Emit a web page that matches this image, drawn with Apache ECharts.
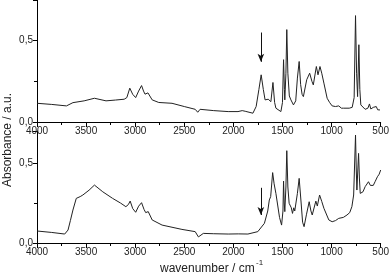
<!DOCTYPE html>
<html><head><meta charset="utf-8">
<script src="https://cdn.jsdelivr.net/npm/echarts@6/dist/echarts.min.js"></script>
<style>html,body{margin:0;padding:0;background:#fff}#c{width:392px;height:280px}</style>
</head><body><div id="c"></div>
<script>
const xTicks = [4000, 3500, 3000, 2500, 2000, 1500, 1000, 500];
const yTickLabels = ['0,0', '0,5'];
const topWn = [4000,3850,3700,3634,3520,3415,3297,3200,3112,3085,3055,3025,2995,2965,2935,2915,2900,2870,2827,2760,2625,2500,2389,2363,2339,2200,2053,1953,1910,1880,1801,1768,1740,1717,1695,1677,1645,1630,1618,1597,1580,1567,1516,1500,1489,1480,1476,1465,1456,1445,1430,1414,1388,1365,1348,1330,1315,1300,1287,1253,1223,1200,1186,1155,1138,1118,1100,1078,1045,1020,994,960,927,900,877,820,790,770,756,745,735,722,712,702,658,630,614,600,591,575,560,545,530,507,500];
const topAbs = [0.115,0.108,0.099,0.119,0.13,0.146,0.13,0.135,0.14,0.15,0.208,0.17,0.15,0.19,0.224,0.19,0.171,0.179,0.136,0.12,0.115,0.095,0.078,0.06,0.078,0.07,0.064,0.064,0.07,0.066,0.054,0.095,0.2,0.29,0.2,0.136,0.14,0.146,0.125,0.243,0.12,0.085,0.064,0.12,0.383,0.2,0.136,0.3,0.568,0.3,0.16,0.136,0.105,0.13,0.27,0.372,0.23,0.17,0.156,0.26,0.30,0.25,0.228,0.341,0.29,0.341,0.3,0.239,0.146,0.12,0.099,0.095,0.099,0.085,0.085,0.085,0.09,0.15,0.654,0.3,0.156,0.475,0.2,0.105,0.078,0.085,0.111,0.08,0.078,0.09,0.078,0.095,0.075,0.074,0.074];
const botWn = [4000,3850,3718,3684,3660,3634,3600,3560,3533,3470,3415,3330,3230,3150,3095,3070,3051,3025,2995,2965,2935,2910,2893,2867,2827,2726,2524,2389,2356,2306,2200,2053,1950,1852,1751,1684,1650,1634,1620,1600,1585,1567,1530,1509,1495,1489,1482,1476,1465,1456,1445,1432,1410,1398,1385,1375,1365,1348,1330,1310,1295,1280,1255,1228,1210,1197,1160,1145,1122,1100,1078,1028,994,960,927,880,843,815,793,775,756,748,742,725,716,708,680,658,624,605,591,575,557,545,533,515,500];
const botAbs = [0.075,0.066,0.056,0.081,0.14,0.206,0.279,0.29,0.30,0.33,0.362,0.32,0.279,0.25,0.227,0.24,0.262,0.215,0.192,0.23,0.252,0.21,0.19,0.196,0.144,0.112,0.085,0.071,0.038,0.06,0.058,0.056,0.057,0.056,0.071,0.123,0.2,0.269,0.29,0.44,0.37,0.31,0.16,0.112,0.2,0.387,0.25,0.196,0.35,0.577,0.35,0.248,0.22,0.185,0.22,0.2,0.21,0.31,0.404,0.25,0.13,0.102,0.18,0.258,0.2,0.175,0.262,0.231,0.30,0.26,0.217,0.144,0.133,0.14,0.154,0.16,0.175,0.19,0.227,0.3,0.675,0.45,0.331,0.56,0.4,0.31,0.32,0.352,0.383,0.36,0.348,0.36,0.383,0.39,0.414,0.43,0.456];
const arrowWn = 1720;
const topArrow = [0.55, 0.37];
const botArrow = [0.345, 0.175];

const font = 'Liberation Sans, Arial, sans-serif';
function xAx(gi){
  return {gridIndex: gi, type:'value', inverse:true, min:500, max:4000, interval:500,
    axisLine:{show:true, lineStyle:{color:'#000', width:1}},
    axisTick:{show:true, length:5, lineStyle:{color:'#000'}},
    minorTick:{show:true, splitNumber:2, length:3, lineStyle:{color:'#000'}},
    splitLine:{show:false},
    axisLabel:{color:'#222', fontSize:10, fontFamily:font, margin:4,
      formatter: v => { const t = xTicks.find(k => Math.abs(k - v) < 1e-6); return t === undefined ? '' : String(t); }}};
}
function yAx(gi, max){
  return {gridIndex: gi, type:'value', min:0, max:max, interval:0.5,
    axisLine:{show:true, lineStyle:{color:'#000', width:1}},
    axisTick:{show:true, length:4, lineStyle:{color:'#000'}},
    minorTick:{show:true, splitNumber:2, length:3, lineStyle:{color:'#000'}},
    splitLine:{show:false},
    axisLabel:{color:'#222', fontSize:10, fontFamily:font, margin:4, showMaxLabel:false,
      formatter: v => { const i = Math.round(v/0.5); return Math.abs(v - i*0.5) < 1e-6 ? (yTickLabels[i] || '') : ''; }}};
}
function mkLine(a){
  return {silent:true, symbol:['none','arrow'], symbolSize:[5,8], label:{show:false},
    lineStyle:{color:'#111', width:1, type:'solid'},
    data:[[{coord:[arrowWn, a[0]]},{coord:[arrowWn, a[1]]}]]};
}
const chart = echarts.init(document.getElementById('c'), null, {renderer:'canvas'});
chart.setOption({
  animation:false,
  backgroundColor:'#fff',
  grid:[{left:37, right:8, top:0, height:122},{left:37, right:8, top:131, height:112}],
  xAxis:[xAx(0), xAx(1)],
  yAxis:[yAx(0,0.75), yAx(1,0.7)],
  series:[
    {type:'line', xAxisIndex:0, yAxisIndex:0, showSymbol:false, symbol:'none',
     data: topWn.map((w,i)=>[w, topAbs[i]]), lineStyle:{color:'#222', width:1}, markLine: mkLine(topArrow)},
    {type:'line', xAxisIndex:1, yAxisIndex:1, showSymbol:false, symbol:'none',
     data: botWn.map((w,i)=>[w, botAbs[i]]), lineStyle:{color:'#222', width:1}, markLine: mkLine(botArrow)}
  ],
  graphic:[
    {type:'text', x:8, y:140, rotation:Math.PI/2, style:{text:'Absorbance / a.u.', fill:'#222', font:'12px '+font, textAlign:'center', textVerticalAlign:'middle'}},
    {type:'text', x:160, y:269, style:{text:'wavenumber / cm', fill:'#222', font:'12px '+font, textAlign:'left', textVerticalAlign:'middle'}},
    {type:'text', x:256, y:263, style:{text:'-1', fill:'#222', font:'8px '+font, textAlign:'left', textVerticalAlign:'middle'}}
  ]
});
</script></body></html>
